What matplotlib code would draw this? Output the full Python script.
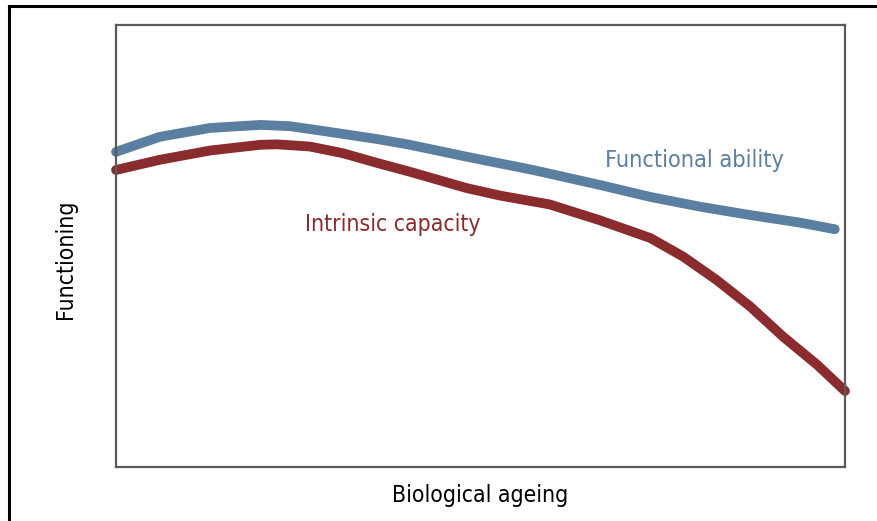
import numpy as np
import matplotlib.pyplot as plt
from matplotlib.lines import Line2D

plt.rcParams['font.family'] = ['DejaVu Sans']
plt.rcParams['font.stretch'] = 'condensed'

# (x: 0-100 biological ageing, y: 0-100 functioning)
ability_x = [0, 6.0, 12.9, 19.8, 23.9, 28.9, 35.8, 40.3, 48.1, 57.2, 66.4, 73.3, 80.1, 87.0, 93.8, 98.6]
ability_y = [71.3, 74.7, 76.7, 77.4, 77.1, 75.9, 74.2, 72.9, 70.2, 67.2, 63.8, 61.1, 58.9, 57.0, 55.3, 53.8]
capacity_x = [0, 6.0, 12.9, 19.8, 22.1, 26.6, 31.1, 35.8, 40.3, 48.1, 52.7, 59.5, 66.4,
              73.3, 77.8, 82.4, 87.0, 91.5, 96.2, 100]
capacity_y = [67.2, 69.5, 71.6, 72.9, 73.0, 72.5, 71.0, 68.8, 66.8, 63.1, 61.4, 59.4, 55.8,
              51.8, 47.6, 42.3, 36.3, 29.5, 23.1, 17.2]

blue = '#5b7fa0'
red = '#8a2b2e'

W, H = 878, 521
fig = plt.figure(figsize=(W / 100, H / 100), dpi=100)
ax = fig.add_axes([116 / W, 1 - 467 / H, 729 / W, 442 / H])

ax.plot(ability_x, ability_y, color=blue, lw=7, solid_capstyle='round',
        solid_joinstyle='round', clip_on=False)
ax.plot(capacity_x, capacity_y, color=red, lw=7, solid_capstyle='round',
        solid_joinstyle='round', clip_on=False)

ax.text(67.1, 67.9, 'Functional ability', color=blue, fontsize=16.8, va='baseline')
ax.text(25.9, 53.4, 'Intrinsic capacity', color=red, fontsize=16.5, va='baseline')

ax.set_xlim(0, 100)
ax.set_ylim(0, 100)
ax.set_xticks([])
ax.set_yticks([])
for s in ax.spines.values():
    s.set_color('#5a5a5a')
    s.set_linewidth(1.6)

ax.set_xlabel('Biological ageing', fontsize=16.5)
ax.set_ylabel('Functioning', fontsize=16.5)
ax.xaxis.set_label_coords(0.5, -0.038)
ax.yaxis.set_label_coords(-0.054, 0.47)

# outer frame of the image (only left and top edges show)
fig.add_artist(Line2D([9 / W, 9 / W], [0, 1 - 5.5 / H], color='black', lw=2.2,
                      transform=fig.transFigure))
fig.add_artist(Line2D([9 / W, 1], [1 - 5.5 / H, 1 - 5.5 / H], color='black', lw=2.2,
                      transform=fig.transFigure))

fig.savefig('out.png', dpi=100)
